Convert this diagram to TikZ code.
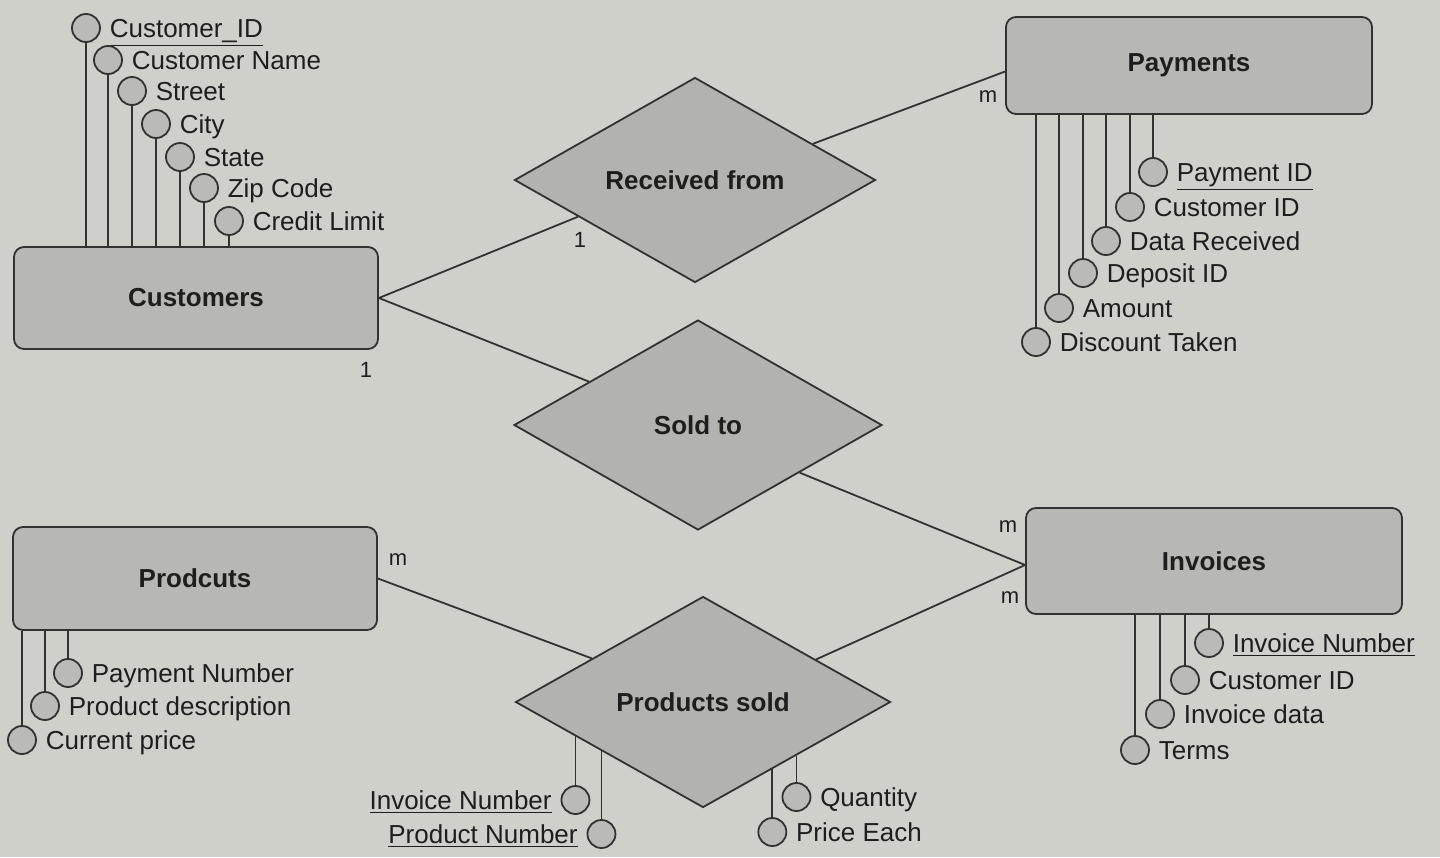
\documentclass[tikz,border=0pt]{standalone}
\usepackage{fontspec}
\setmainfont{Liberation Sans}
\usetikzlibrary{shapes.geometric,calc,positioning}
\definecolor{bg}{RGB}{208,208,203}
\definecolor{entfill}{RGB}{183,183,180}
\definecolor{diafill}{RGB}{178,178,175}
\definecolor{attfill}{RGB}{186,186,183}
\definecolor{ln}{RGB}{50,50,50}
\definecolor{txt}{RGB}{30,30,30}
\begin{document}
\begin{tikzpicture}[x=0.5pt,y=-0.5pt,line width=0.9pt,color=ln,
  entity/.style={rectangle,draw=ln,fill=entfill,rounded corners=5pt,inner sep=0pt,
    font=\bfseries\fontsize{13}{15}\selectfont,text=txt},
  rel/.style={diamond,draw=ln,fill=diafill,inner sep=0pt,
    font=\bfseries\fontsize{13}{15}\selectfont,text=txt},
  attr/.style={circle,draw=ln,fill=attfill,minimum size=14pt,inner sep=0pt},
  lbl/.style={font=\fontsize{13}{15}\selectfont,text=txt,inner sep=1pt,
    text height=9.3pt,text depth=0pt},
  card/.style={font=\fontsize{11}{13}\selectfont,text=txt,inner sep=0pt}]
\fill[bg] (0,0) rectangle (1440,857);
\useasboundingbox (0,0) rectangle (1440,857);

% Entities
\node[entity,minimum width=182pt,minimum height=51pt] (cust) at (196,298) {Customers};
\node[entity,minimum width=183pt,minimum height=48.5pt] (pay) at (1189,65.5) {Payments};
\node[entity,minimum width=188pt,minimum height=53pt] (inv) at (1214,561) {Invoices};
\node[entity,minimum width=182pt,minimum height=51.5pt] (prod) at (195,578.5) {Prodcuts};

% Relationships
\node[rel,minimum width=180.5pt,minimum height=102.5pt] (rf) at (695,180) {Received from};
\node[rel,minimum width=184pt,minimum height=105pt] (st) at (698,425) {Sold to};
\node[rel,minimum width=187.5pt,minimum height=105.5pt] (ps) at (703,702) {Products sold};

% Customer attributes
\node[attr] (c1) at (86,28) {};
\node[lbl,right=3pt of c1] (tc1) {\underline{Customer\_ID}};
\node[attr] (c2) at (108,60) {};
\node[lbl,right=3pt of c2] (tc2) {Customer Name};
\node[attr] (c3) at (132,91) {};
\node[lbl,right=3pt of c3] (tc3) {Street};
\node[attr] (c4) at (156,124) {};
\node[lbl,right=3pt of c4] (tc4) {City};
\node[attr] (c5) at (180,157) {};
\node[lbl,right=3pt of c5] (tc5) {State};
\node[attr] (c6) at (204,188) {};
\node[lbl,right=3pt of c6] (tc6) {Zip Code};
\node[attr] (c7) at (229,221) {};
\node[lbl,right=3pt of c7] (tc7) {Credit Limit};
\foreach \i in {1,...,7} \draw (c\i.south) -- (c\i.south |- cust.north);

% Payment attributes
\node[attr] (p1) at (1153,172) {};
\node[lbl,right=3pt of p1] (tp1) {\underline{Payment ID}};
\node[attr] (p2) at (1130,207) {};
\node[lbl,right=3pt of p2] (tp2) {Customer ID};
\node[attr] (p3) at (1106,241) {};
\node[lbl,right=3pt of p3] (tp3) {Data Received};
\node[attr] (p4) at (1083,273) {};
\node[lbl,right=3pt of p4] (tp4) {Deposit ID};
\node[attr] (p5) at (1059,308) {};
\node[lbl,right=3pt of p5] (tp5) {Amount};
\node[attr] (p6) at (1036,342) {};
\node[lbl,right=3pt of p6] (tp6) {Discount Taken};
\foreach \i in {1,...,6} \draw (p\i.north) -- (p\i.north |- pay.south);

% Invoice attributes
\node[attr] (i1) at (1209,643) {};
\node[lbl,right=3pt of i1] (ti1) {\underline{Invoice Number}};
\node[attr] (i2) at (1185,680) {};
\node[lbl,right=3pt of i2] (ti2) {Customer ID};
\node[attr] (i3) at (1160,714) {};
\node[lbl,right=3pt of i3] (ti3) {Invoice data};
\node[attr] (i4) at (1135,750) {};
\node[lbl,right=3pt of i4] (ti4) {Terms};
\foreach \i in {1,...,4} \draw (i\i.north) -- (i\i.north |- inv.south);

% Product attributes
\node[attr] (r1) at (68,673) {};
\node[lbl,right=3pt of r1] (tr1) {Payment Number};
\node[attr] (r2) at (45,706) {};
\node[lbl,right=3pt of r2] (tr2) {Product description};
\node[attr] (r3) at (22,740) {};
\node[lbl,right=3pt of r3] (tr3) {Current price};
\foreach \i in {1,...,3} \draw (r\i.north) -- (r\i.north |- prod.south);

% Products sold attributes
\coordinate (e1) at ($(ps.west)!0.323!(ps.south)$);
\coordinate (e2) at ($(ps.west)!0.461!(ps.south)$);
\coordinate (e3) at ($(ps.south)!0.496!(ps.east)$);
\coordinate (e4) at ($(ps.south)!0.368!(ps.east)$);
\node[attr] (s1) at (e1 |- 0,800) {};
\node[lbl,left=3pt of s1] (ts1) {\underline{Invoice Number}};
\node[attr] (s2) at (e2 |- 0,834) {};
\node[lbl,left=3pt of s2] (ts2) {\underline{Product Number}};
\node[attr] (s3) at (e3 |- 0,797) {};
\node[lbl,right=3pt of s3] (ts3) {Quantity};
\node[attr] (s4) at (e4 |- 0,832) {};
\node[lbl,right=3pt of s4] (ts4) {Price Each};
\foreach \i in {1,...,4} \draw (s\i.north) -- (e\i);

% Relationship connectors
\coordinate (rfL) at ($(rf.west)!0.355!(rf.south)$);
\coordinate (rfR) at ($(rf.north)!0.65!(rf.east)$);
\coordinate (stL) at ($(st.west)!0.41!(st.north)$);
\coordinate (stR) at ($(st.south)!0.55!(st.east)$);
\coordinate (psL) at ($(ps.west)!0.41!(ps.north)$);
\coordinate (psR) at ($(ps.north)!0.6!(ps.east)$);
\draw (cust.east) -- (rfL);
\draw (cust.east) -- (stL);
\draw (rfR) -- ([yshift=-3pt]pay.west);
\draw (stR) -- ([yshift=-2pt]inv.west);
\draw (psR) -- ([yshift=-2pt]inv.west);
\draw (prod.east) -- (psL);

% Cardinalities
\node[card] (k1) at (580,240) {1};
\node[card] (k2) at (366,370) {1};
\node[card] (k3) at (988,97) {m};
\node[card] (k4) at (398,560) {m};
\node[card] (k5) at (1008,527) {m};
\node[card] (k6) at (1010,598) {m};
\end{tikzpicture}
\end{document}
